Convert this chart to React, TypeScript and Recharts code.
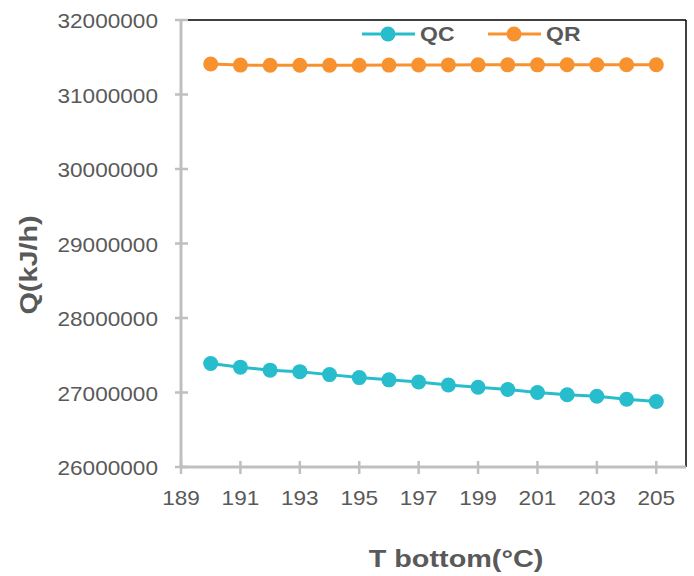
import React from "react";
import { LineChart, Line, XAxis, YAxis, ReferenceLine } from "recharts";

const temps = [190, 191, 192, 193, 194, 195, 196, 197, 198, 199, 200, 201, 202, 203, 204, 205];
const qc = [
  27390000, 27340000, 27300000, 27280000, 27240000, 27200000, 27170000, 27140000,
  27100000, 27070000, 27040000, 27000000, 26970000, 26950000, 26910000, 26880000,
];
const qr = [
  31410000, 31395000, 31392000, 31392000, 31392000, 31392000, 31395000, 31396000,
  31397000, 31398000, 31398000, 31398000, 31399000, 31399000, 31399000, 31400000,
];
const xTicks = [189, 191, 193, 195, 197, 199, 201, 203, 205];
const yTicks = [26000000, 27000000, 28000000, 29000000, 30000000, 31000000, 32000000];
const seriesNames = ["QC", "QR"];

const W = 694;
const H = 576;
const LEFT = 181;
const TOP = 20;
const RIGHT = 8;
const BOTTOM = 109;
const AXIS_GREY = "#bfbfbf";
const TEXT = "#595959";
const FONT = "'Liberation Sans', Arial, sans-serif";
const QC_COLOR = "#27bdcc";
const QR_COLOR = "#f7922f";
const colors = [QC_COLOR, QR_COLOR];

const data = temps.map((t, i) => ({ t, qc: qc[i], qr: qr[i] }));

const YTick = (props: any) => {
  const { y, payload } = props;
  return (
    <g>
      <line x1={LEFT - 6} x2={LEFT + 7} y1={y} y2={y} stroke={AXIS_GREY} strokeWidth={2.5} />
      <text
        transform={`translate(${LEFT - 23},${y + 8}) scale(1.13,1)`}
        textAnchor="end"
        fontSize={20}
        fontFamily={FONT}
        fill={TEXT}
      >
        {payload.value}
      </text>
    </g>
  );
};

const XTick = (props: any) => {
  const { x, payload } = props;
  const axisY = H - BOTTOM;
  return (
    <g>
      <line x1={x} x2={x} y1={axisY - 6} y2={axisY + 7} stroke={AXIS_GREY} strokeWidth={2.5} />
      <text
        transform={`translate(${x},${axisY + 38}) scale(1.13,1)`}
        textAnchor="middle"
        fontSize={20}
        fontFamily={FONT}
        fill={TEXT}
      >
        {payload.value}
      </text>
    </g>
  );
};

const LegendBox = () => (
  <svg
    width={240}
    height={30}
    style={{ position: "absolute", left: 362, top: 20, pointerEvents: "none" }}
  >
    {seriesNames.map((name, i) => {
      const x0 = i * 126;
      return (
        <g key={name}>
          <line x1={x0} x2={x0 + 53} y1={14} y2={14} stroke={colors[i]} strokeWidth={3} />
          <circle cx={x0 + 26} cy={14} r={7.5} fill={colors[i]} />
          <text
            transform={`translate(${x0 + 58},21) scale(1.15,1)`}
            fontSize={20}
            fontWeight="bold"
            fontFamily={FONT}
            fill={TEXT}
          >
            {name}
          </text>
        </g>
      );
    })}
  </svg>
);

const YLabel = () => (
  <text
    transform={`translate(37,265) rotate(-90) scale(1.2,1)`}
    textAnchor="middle"
    fontSize={24}
    fontWeight="bold"
    fontFamily={FONT}
    fill={TEXT}
  >
    Q(kJ/h)
  </text>
);

const XLabel = () => (
  <text
    transform={`translate(456,567) scale(1.2,1)`}
    textAnchor="middle"
    fontSize={24}
    fontWeight="bold"
    fontFamily={FONT}
    fill={TEXT}
  >
    T bottom(°C)
  </text>
);

export default function App() {
  return (
    <div style={{ position: "absolute", left: 0, top: 0, width: W, height: H, background: "#fff" }}>
      <LineChart
        width={W}
        height={H}
        data={data}
        margin={{ top: TOP, right: RIGHT, left: 0, bottom: 0 }}
      >
        <XAxis
          dataKey="t"
          type="number"
          domain={[189, 206]}
          ticks={xTicks}
          height={BOTTOM}
          tickLine={false}
          axisLine={{ stroke: AXIS_GREY, strokeWidth: 3 }}
          tick={<XTick />}
          label={<XLabel />}
        />
        <YAxis
          type="number"
          domain={[26000000, 32000000]}
          ticks={yTicks}
          width={LEFT}
          tickLine={false}
          axisLine={{ stroke: AXIS_GREY, strokeWidth: 3 }}
          tick={<YTick />}
          label={<YLabel />}
        />
        <ReferenceLine y={32000000} stroke="#000" strokeWidth={1.5} />
        <ReferenceLine x={206} stroke="#000" strokeWidth={1.5} />
        <Line
          dataKey="qc"
          name={seriesNames[0]}
          stroke={QC_COLOR}
          strokeWidth={3}
          dot={{ r: 7.5, fill: QC_COLOR, stroke: QC_COLOR, strokeWidth: 0 }}
          activeDot={false}
          isAnimationActive={false}
        />
        <Line
          dataKey="qr"
          name={seriesNames[1]}
          stroke={QR_COLOR}
          strokeWidth={3}
          dot={{ r: 7.5, fill: QR_COLOR, stroke: QR_COLOR, strokeWidth: 0 }}
          activeDot={false}
          isAnimationActive={false}
        />
      </LineChart>
      <LegendBox />
    </div>
  );
}
